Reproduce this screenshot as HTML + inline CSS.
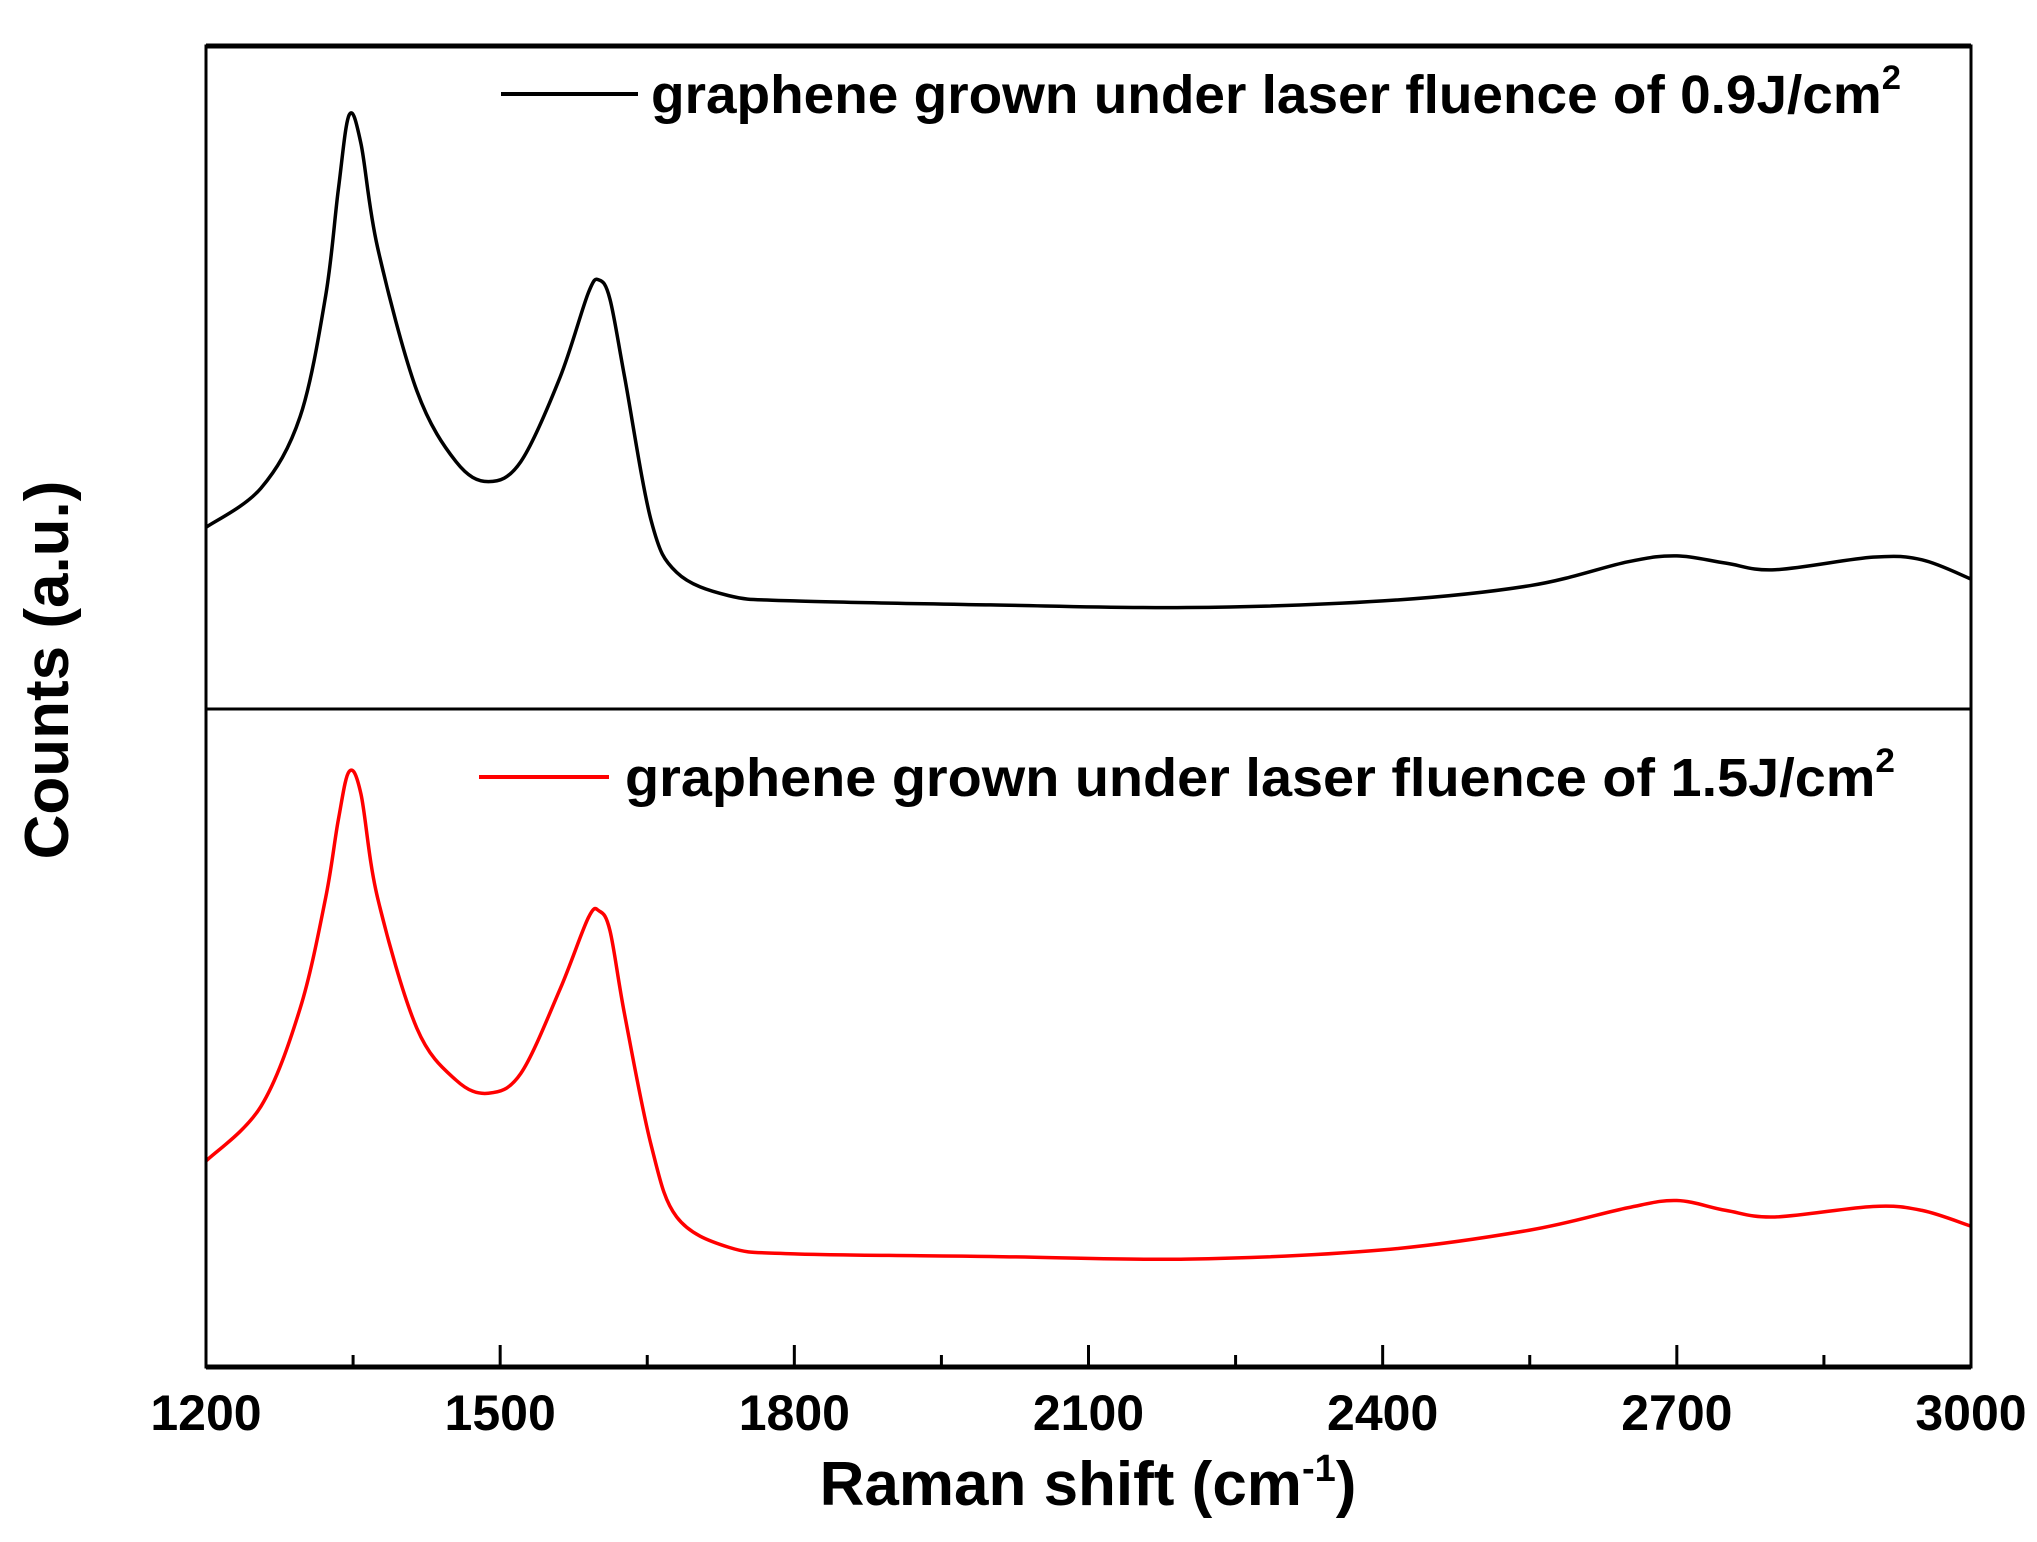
<!DOCTYPE html>
<html><head><meta charset="utf-8"><style>
html,body{margin:0;padding:0;background:#fff}
svg{display:block}
text{font-family:"Liberation Sans",Arial,sans-serif;font-weight:bold;fill:#000}
</style></head><body>
<svg id="chart" width="2037" height="1542" viewBox="0 0 2037 1542" xmlns="http://www.w3.org/2000/svg">
<g id="plot"></g>
</svg>
<script>
const shifts=[1200,1256,1296,1322,1335,1346,1358,1375,1415,1455,1488,1521,1561,1590,1601,1612,1627,1654,1680,1733,1800,2000,2200,2400,2550,2650,2700,2750,2800,2900,2950,3000];
const countsLow=[274,333,441,623,784,896,853,696,480,373,343,373,500,628,647,618,500,284,206,171,163,157,153,163,186,222,231,220,210,229,225,196];
const countsHigh=[313,396,545,713,832,905,871,713,515,436,416,446,574,683,693,663,535,337,228,182,172,168,164,178,208,242,253,238,228,244,238,214];
const xTicks=[1200,1500,1800,2100,2400,2700,3000];
const xMinor=[1350,1650,1950,2250,2550,2850];

const NS="http://www.w3.org/2000/svg";
const g=document.getElementById('plot');
const L=206,R=1971,T=46,M=709,B=1367;
const xs=v=>L+(v-1200)/(3000-1200)*(R-L);
const yTop=v=>M-v/1000*(M-T);
const yBot=v=>B-v/1000*(B-M);
function el(tag,attrs,parent){const e=document.createElementNS(NS,tag);for(const k in attrs)e.setAttribute(k,attrs[k]);(parent||g).appendChild(e);return e;}
function path(vals,ys){
  const p=shifts.map((s,i)=>[xs(s),ys(vals[i])]);
  let d=`M${p[0][0]},${p[0][1]}`;
  for(let i=0;i<p.length-1;i++){
    const p0=p[Math.max(0,i-1)],p1=p[i],p2=p[i+1],p3=p[Math.min(p.length-1,i+2)];
    const c1=[p1[0]+(p2[0]-p0[0])/6,p1[1]+(p2[1]-p0[1])/6];
    const c2=[p2[0]-(p3[0]-p1[0])/6,p2[1]-(p3[1]-p1[1])/6];
    d+=` C${c1[0]},${c1[1]} ${c2[0]},${c2[1]} ${p2[0]},${p2[1]}`;
  }
  return d;
}
const s1=el('path',{d:path(countsLow,yTop),fill:'none',stroke:'#000','stroke-width':3.5,'stroke-linejoin':'round'});


const s2=el('path',{d:path(countsHigh,yBot),fill:'none',stroke:'#ff0000','stroke-width':3.5,'stroke-linejoin':'round'});



const frame=el('rect',{x:L,y:T,width:R-L,height:B-T,fill:'none',stroke:'#000','stroke-width':3});


const div=el('line',{x1:L,x2:R,y1:M,y2:M,stroke:'#000','stroke-width':3});


el('line',{x1:L,x2:R,y1:T,y2:T,stroke:'#000','stroke-width':5});
el('line',{x1:L,x2:R,y1:B,y2:B,stroke:'#000','stroke-width':5});

xTicks.forEach(t=>{
  const tk=el('line',{x1:xs(t),x2:xs(t),y1:B,y2:B-22,stroke:'#000','stroke-width':3});
  
  
  const lb=el('text',{x:xs(t),y:1430,'text-anchor':'middle','font-size':50});
  lb.textContent=t;
  
  
});
xMinor.forEach(t=>{
  const tk=el('line',{x1:xs(t),x2:xs(t),y1:B,y2:B-12,stroke:'#000','stroke-width':3});
  
  
});

const xt=el('text',{x:1088,y:1505,'text-anchor':'middle','font-size':62});
xt.innerHTML='Raman shift (cm<tspan dy="-24" font-size="38">-1</tspan><tspan dy="24">)</tspan>';


const yt=el('text',{x:0,y:0,'text-anchor':'middle','font-size':62,transform:'translate(68,670) rotate(-90)'});
yt.textContent='Counts (a.u.)';



const lg1=el('line',{x1:501,x2:638,y1:94,y2:94,stroke:'#000','stroke-width':4});


const lt1=el('text',{x:651,y:113,'font-size':54,textLength:1250,lengthAdjust:'spacingAndGlyphs'});
lt1.innerHTML='graphene grown under laser fluence of 0.9J/cm<tspan dy="-24" font-size="34">2</tspan>';


const lg2=el('line',{x1:479,x2:609,y1:777,y2:777,stroke:'#ff0000','stroke-width':4});


const lt2=el('text',{x:625,y:796,'font-size':54,textLength:1270,lengthAdjust:'spacingAndGlyphs'});
lt2.innerHTML='graphene grown under laser fluence of 1.5J/cm<tspan dy="-24" font-size="34">2</tspan>';


</script>
</body></html>
